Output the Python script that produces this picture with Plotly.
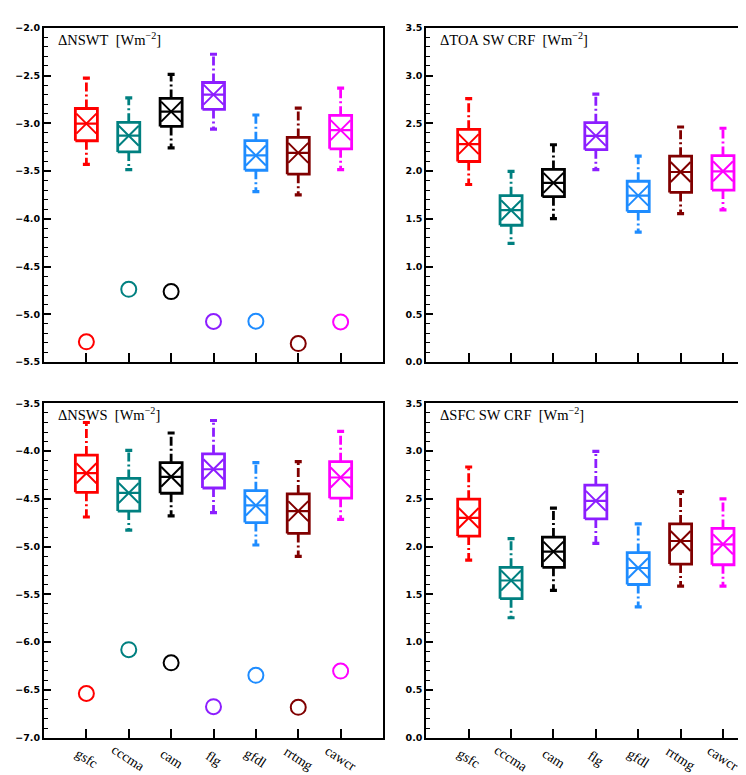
import plotly.graph_objects as go

models = ["gsfc", "cccma", "cam", "flg", "gfdl", "rrtmg", "cawcr"]
colors = ["#FF0000", "#008080", "#000000", "#8C1EFF", "#1E8CFF", "#800000", "#FF00FF"]

# Panel 1: delta NSWT
nswt_lo = [-3.43, -3.485, -3.257, -3.062, -3.716, -3.75, -3.485]
nswt_q1 = [-3.183, -3.30, -3.033, -2.855, -3.492, -3.533, -3.268]
nswt_med = [-3.004, -3.13, -2.878, -2.70, -3.337, -3.31, -3.072]
nswt_q3 = [-2.845, -2.99, -2.74, -2.573, -3.182, -3.148, -2.917]
nswt_hi = [-2.528, -2.734, -2.487, -2.277, -2.913, -2.841, -2.631]
nswt_circ = [-5.289, -4.739, -4.763, -5.076, -5.073, -5.307, -5.08]

# Panel 2: delta TOA SW CRF
toa_lo = [1.859, 1.243, 1.501, 2.014, 1.36, 1.553, 1.594]
toa_q1 = [2.10, 1.432, 1.731, 2.224, 1.576, 1.776, 1.80]
toa_med = [2.282, 1.59, 1.876, 2.368, 1.742, 1.99, 1.997]
toa_q3 = [2.437, 1.742, 2.017, 2.506, 1.893, 2.155, 2.162]
toa_hi = [2.758, 1.997, 2.275, 2.806, 2.155, 2.461, 2.448]

# Panel 3: delta NSWS
nsws_lo = [-4.69, -4.828, -4.679, -4.645, -4.983, -5.103, -4.714]
nsws_q1 = [-4.431, -4.628, -4.441, -4.386, -4.748, -4.862, -4.493]
nsws_med = [-4.231, -4.438, -4.269, -4.19, -4.569, -4.628, -4.276]
nsws_q3 = [-4.041, -4.286, -4.121, -4.028, -4.414, -4.448, -4.11]
nsws_hi = [-3.70, -3.993, -3.81, -3.679, -4.121, -4.11, -3.793]
nsws_circ = [-6.538, -6.079, -6.217, -6.676, -6.348, -6.683, -6.303]

# Panel 4: delta SFC SW CRF
sfc_lo = [1.859, 1.255, 1.541, 2.034, 1.369, 1.586, 1.586]
sfc_q1 = [2.11, 1.455, 1.783, 2.29, 1.603, 1.817, 1.81]
sfc_med = [2.30, 1.645, 1.948, 2.479, 1.776, 2.059, 2.024]
sfc_q3 = [2.497, 1.783, 2.10, 2.645, 1.938, 2.238, 2.19]
sfc_hi = [2.834, 2.083, 2.403, 2.997, 2.238, 2.576, 2.50]

titles = ["\u0394NSWT&nbsp;&nbsp;[Wm<sup>\u22122</sup>]", "\u0394TOA&nbsp;SW&nbsp;CRF&nbsp;&nbsp;[Wm<sup>\u22122</sup>]",
          "\u0394NSWS&nbsp;&nbsp;[Wm<sup>\u22122</sup>]", "\u0394SFC&nbsp;SW&nbsp;CRF&nbsp;&nbsp;[Wm<sup>\u22122</sup>]"]

fig = go.Figure()
W = 0.26
DASH = "9px,3px,2px,3px"


def add_panel(k, lo, q1, med, q3, hi, circ=None):
    xa = "x" if k == 1 else "x%d" % k
    ya = "y" if k == 1 else "y%d" % k
    for i, m in enumerate(models):
        c = i + 1
        col = colors[i]
        common = dict(xaxis=xa, yaxis=ya, showlegend=False, hoverinfo="skip")
        fig.add_trace(go.Scatter(x=[c - W, c + W, c + W, c - W, c - W],
                                 y=[q1[i], q1[i], q3[i], q3[i], q1[i]],
                                 mode="lines", line=dict(color=col, width=2.8), **common))
        fig.add_trace(go.Scatter(x=[c - W, c + W], y=[med[i], med[i]],
                                 mode="lines", line=dict(color=col, width=2.2), **common))
        fig.add_trace(go.Scatter(x=[c, c, None, c, c], y=[q3[i], hi[i], None, q1[i], lo[i]],
                                 mode="lines", line=dict(color=col, width=2.8, dash=DASH), **common))
        fig.add_trace(go.Scatter(x=[c, c], y=[hi[i], lo[i]], mode="markers",
                                 marker=dict(symbol="line-ew", size=5, color=col,
                                             line=dict(color=col, width=3.2)), **common))
        fig.add_trace(go.Scatter(x=[c], y=[med[i]], mode="markers",
                                 marker=dict(symbol="x-thin", size=20, color=col,
                                             line=dict(color=col, width=2)), **common))
        if circ is not None:
            fig.add_trace(go.Scatter(x=[c], y=[circ[i]], mode="markers",
                                     marker=dict(symbol="circle-open", size=15, color=col,
                                                 line=dict(color=col, width=2)), **common))


add_panel(1, nswt_lo, nswt_q1, nswt_med, nswt_q3, nswt_hi, nswt_circ)
add_panel(2, toa_lo, toa_q1, toa_med, toa_q3, toa_hi)
add_panel(3, nsws_lo, nsws_q1, nsws_med, nsws_q3, nsws_hi, nsws_circ)
add_panel(4, sfc_lo, sfc_q1, sfc_med, sfc_q3, sfc_hi)

FW, FH = 746, 775
xL = [36 / FW, 375 / FW]
xR = [418.3 / FW, 1.0]
yT = [(FH - 353) / FH, (FH - 14) / FH]
yB = [(FH - 734) / FH, (FH - 395) / FH]


def xax(dom, rng, anchor, mirror):
    return dict(domain=dom, range=rng, anchor=anchor, tickvals=list(range(1, 8)),
                showticklabels=False, ticks="inside", ticklen=9, tickwidth=2, tickcolor="black",
                showline=True, linecolor="black", linewidth=2, mirror=mirror,
                showgrid=False, zeroline=False)


def yax(dom, rng, anchor, mirror):
    return dict(domain=dom, range=rng, anchor=anchor, tick0=0, dtick=0.5, tickformat=".1f",
                ticks="inside", ticklen=7, tickwidth=1.5, tickcolor="black",
                tickfont=dict(family="DejaVu Sans", size=9.5, color="black", weight="bold"),
                minor=dict(dtick=0.1, ticks="inside", ticklen=4, tickwidth=1.2, tickcolor="black"),
                showline=True, linecolor="black", linewidth=2, mirror=mirror,
                showgrid=False, zeroline=False)


fig.update_layout(
    width=FW, height=FH, margin=dict(l=0, r=0, t=0, b=0),
    paper_bgcolor="white", plot_bgcolor="white", showlegend=False,
    xaxis=xax(xL, [0, 8], "y", True),
    yaxis=yax(yT, [-5.5, -2.0], "x", True),
    xaxis2=xax(xR, [0, 7.732], "y2", True),
    yaxis2=yax(yT, [0, 3.5], "x2", False),
    xaxis3=xax(xL, [0, 8], "y3", True),
    yaxis3=yax(yB, [-7.0, -3.5], "x3", True),
    xaxis4=xax(xR, [0, 7.732], "y4", True),
    yaxis4=yax(yB, [0, 3.5], "x4", False),
)

ann = []
title_pos = [(48, 25), (430, 25), (48, 406), (430, 406)]
for t, (px, py) in zip(titles, title_pos):
    ann.append(dict(text=t, xref="paper", yref="paper", x=px / FW, y=(FH - py) / FH,
                    xanchor="left", yanchor="middle", showarrow=False,
                    font=dict(family="Liberation Serif", size=14.5, color="black")))
for xa in ["x3", "x4"]:
    for i, m in enumerate(models):
        ann.append(dict(text=m, xref=xa, yref="paper", x=i + 1, y=(FH - 755) / FH,
                        xanchor="center", yanchor="middle", textangle=33, showarrow=False,
                        font=dict(family="Liberation Serif", size=14, color="black")))
fig.update_layout(annotations=ann)

fig.write_html("out.html")
